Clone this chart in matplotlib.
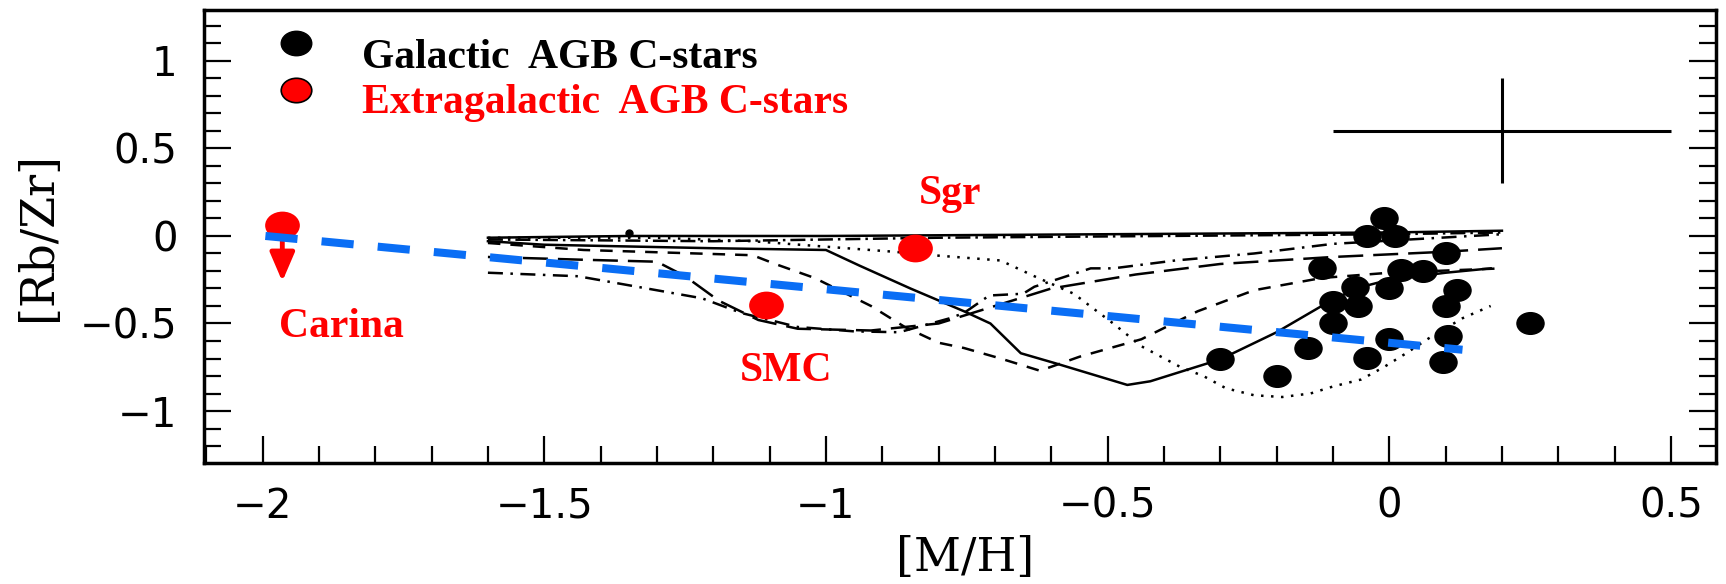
import numpy as np
import matplotlib
matplotlib.use("Agg")
import matplotlib.pyplot as plt
from matplotlib.path import Path
from matplotlib.ticker import MultipleLocator, FuncFormatter

# galactic AGB carbon stars
gal_mh = [-0.01, -0.04, 0.01, 0.10, -0.12, 0.02, 0.06, -0.06, 0.00, 0.12, -0.10,
          -0.055, 0.10, -0.10, -0.145, 0.00, 0.105, -0.30, -0.04, 0.095, -0.20, 0.25]
gal_rbzr = [0.10, 0.0, 0.0, -0.10, -0.185, -0.195, -0.20, -0.29, -0.30, -0.31, -0.38,
            -0.40, -0.40, -0.50, -0.64, -0.59, -0.57, -0.705, -0.695, -0.72, -0.80, -0.50]

# extragalactic AGB carbon stars
ext_names = ["Carina", "SMC", "Sgr"]
ext_mh = [-1.965, -1.107, -0.841]
ext_rbzr = [0.065, -0.395, -0.07]
ext_label_xy = [(-1.86, -0.52), (-1.07, -0.77), (-0.78, 0.24)]

# fit through the extragalactic points
fit_mh = [-1.995, 0.13]
fit_rbzr = [0.0, -0.65]

# typical error
err_mh, err_rbzr, err_x, err_y = 0.2, 0.6, 0.3, 0.3

# model curves
top_solid_mh = [-1.6, -1.35, -1.0, -0.5, 0.0, 0.2]
top_solid_rb = [-0.01, 0.0, 0.0, 0.01, 0.02, 0.03]
top_dd_mh = [-1.6, -1.2, -0.8, -0.4, 0.0, 0.2]
top_dd_rb = [-0.02, -0.03, -0.01, 0.0, 0.01, 0.02]
solid_mh = [-1.6, -1.5, -1.2, -1.0, -0.94, -0.85, -0.755, -0.708, -0.654, -0.593,
            -0.465, -0.424, -0.30, -0.20, -0.12, -0.06, 0.0, 0.1, 0.18]
solid_rb = [-0.03, -0.05, -0.07, -0.08, -0.17, -0.30, -0.43, -0.50, -0.67, -0.727,
            -0.851, -0.83, -0.705, -0.55, -0.40, -0.30, -0.25, -0.21, -0.185]
dot_mh = [-1.6, -1.3, -1.13, -0.88, -0.81, -0.69, -0.63, -0.56, -0.49, -0.44, -0.37,
          -0.33, -0.29, -0.24, -0.19, -0.14, -0.10, -0.05, -0.01, 0.03, 0.07, 0.13, 0.18]
dot_rb = [-0.01, -0.01, -0.03, -0.09, -0.11, -0.14, -0.23, -0.33, -0.50, -0.63, -0.75,
          -0.80, -0.87, -0.91, -0.92, -0.90, -0.86, -0.82, -0.75, -0.67, -0.585, -0.47, -0.40]
ldash_mh = [-1.6, -1.44, -1.30, -1.25, -1.19, -1.12, -1.05, -0.92, -0.80, -0.70, -0.60,
            -0.45, -0.30, -0.10, 0.10, 0.2]
ldash_rb = [-0.12, -0.135, -0.147, -0.23, -0.37, -0.48, -0.53, -0.54, -0.50, -0.40, -0.30,
            -0.22, -0.16, -0.12, -0.09, -0.07]
dash_mh = [-1.6, -1.43, -1.13, -1.09, -1.02, -0.92, -0.86, -0.80, -0.755, -0.69, -0.62,
           -0.55, -0.44, -0.34, -0.24, -0.12, 0.0, 0.2]
dash_rb = [-0.04, -0.08, -0.11, -0.16, -0.24, -0.40, -0.52, -0.61, -0.64, -0.70, -0.77,
           -0.69, -0.59, -0.43, -0.31, -0.24, -0.21, -0.185]
dd_mh = [-1.6, -1.44, -1.22, -1.15, -1.05, -0.95, -0.87, -0.78, -0.755, -0.71, -0.65,
         -0.63, -0.53, -0.49, -0.38, -0.24, -0.10, 0.2]
dd_rb = [-0.21, -0.23, -0.356, -0.44, -0.52, -0.545, -0.55, -0.47, -0.44, -0.34, -0.33,
         -0.29, -0.185, -0.185, -0.14, -0.10, -0.045, 0.01]

W, H, DPI = 1726, 584, 100
fig = plt.figure(figsize=(W / DPI, H / DPI), dpi=DPI)
ax = fig.add_axes([204 / W, 1 - 463 / H, (1716 - 204) / W, (463 - 10) / H])

# elliptical dot, wider than tall
circ = Path.unit_circle()
ell = Path(circ.vertices * np.array([1.0, 0.8]), circ.codes)

lw_model = 1.8
ax.plot(top_solid_mh, top_solid_rb, color="black", lw=lw_model, ls="-")
ax.plot(top_dd_mh, top_dd_rb, color="black", lw=lw_model, ls=(0, (6, 2, 1, 2)))
ax.plot(solid_mh, solid_rb, color="black", lw=lw_model, ls="-")
ax.plot(dot_mh, dot_rb, color="black", lw=lw_model, ls=(0, (1, 3)))
ax.plot(ldash_mh, ldash_rb, color="black", lw=lw_model, ls=(0, (10, 4)))
ax.plot(dash_mh, dash_rb, color="black", lw=lw_model, ls=(0, (5, 4)))
ax.plot(dd_mh, dd_rb, color="black", lw=lw_model, ls=(0, (6, 3, 1, 3)))
ax.plot([-1.35], [0.015], "o", color="black", ms=5)

ax.plot(gal_mh, gal_rbzr, ls="none", marker=ell, ms=19.5, color="black", zorder=4)

# extragalactic stars, Carina is an upper limit
ax.plot(ext_mh, ext_rbzr, ls="none", marker=ell, ms=25, color="red", mec="none", zorder=4)
ax.annotate("", xy=(ext_mh[0], -0.26), xytext=(ext_mh[0], -0.02),
            arrowprops=dict(arrowstyle="-|>,head_length=0.7,head_width=0.3",
                            color="red", lw=3.5, mutation_scale=25, shrinkA=0, shrinkB=0),
            zorder=5)
for name, (lx, ly) in zip(ext_names, ext_label_xy):
    ax.text(lx, ly, name, color="red", fontsize=30, fontweight="bold",
            family="Liberation Serif", ha="center", va="center")

ax.plot(fit_mh, fit_rbzr, color="#0a6ef5", lw=5.8, dashes=(4, 3), zorder=6)

ax.errorbar(err_mh, err_rbzr, xerr=err_x, yerr=err_y, color="black", lw=2.2, capsize=0)

# legend drawn by hand
ax.plot([-1.94], [1.10], ls="none", marker=ell, ms=22, color="black")
ax.plot([-1.94], [0.835], ls="none", marker=ell, ms=22, color="red", mec="black", mew=1.2)
ax.text(-1.824, 0.96, "Galactic  AGB C-stars", color="black", fontsize=30,
        fontweight="bold", family="Liberation Serif", va="baseline")
ax.text(-1.824, 0.703, "Extragalactic  AGB C-stars", color="red", fontsize=30,
        fontweight="bold", family="Liberation Serif", va="baseline")

ax.set_xlim(-2.104, 0.58)
ax.set_ylim(-1.297, 1.291)
ax.xaxis.set_major_locator(MultipleLocator(0.5))
ax.xaxis.set_minor_locator(MultipleLocator(0.1))
ax.yaxis.set_major_locator(MultipleLocator(0.5))
ax.yaxis.set_minor_locator(MultipleLocator(0.1))
fmt = FuncFormatter(lambda v, p: ("%g" % round(v, 2)).replace("-", "\u2212"))
ax.xaxis.set_major_formatter(fmt)
ax.yaxis.set_major_formatter(fmt)
ax.tick_params(which="both", direction="in", top=False, right=True, width=1.6,
               labelsize=29, colors="black")
ax.tick_params(which="major", length=19.5)
ax.tick_params(which="minor", length=12)
ax.tick_params(axis="x", pad=17)
ax.tick_params(axis="y", pad=19)
for s in ax.spines.values():
    s.set_linewidth(2.5)

fig.text(38 / W, 1 - 236 / H, "[Rb/Zr]", rotation=90, fontsize=33,
         family="DejaVu Serif", ha="center", va="center")
fig.text(965 / W, 1 - 558 / H, "[M/H]", fontsize=33, family="DejaVu Serif",
         ha="center", va="center")

fig.savefig("out.png", dpi=DPI)
